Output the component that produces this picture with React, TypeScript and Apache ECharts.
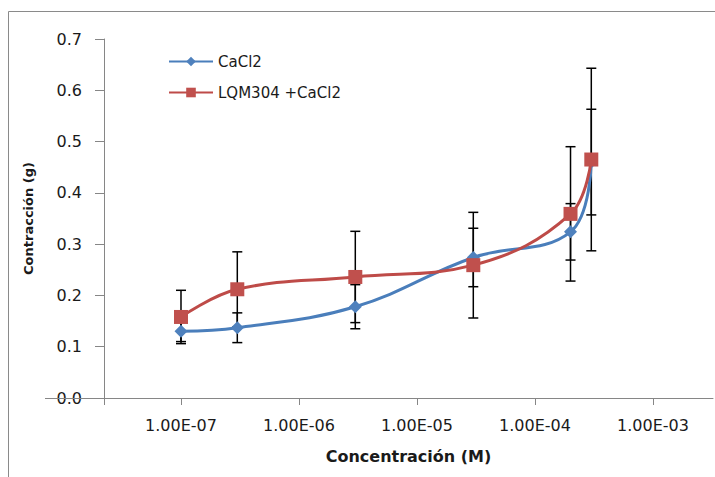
import React, { useEffect, useRef } from "react";
import * as echarts from "echarts";

// Concentration (M) of each measurement
const concentrations = [1e-7, 3e-7, 3e-6, 3e-5, 2e-4, 3e-4];
// Series: CaCl2
const cacl2Values = [0.13, 0.137, 0.178, 0.274, 0.324, 0.46];
const cacl2Errors = [0.02, 0.029, 0.043, 0.057, 0.055, 0.103];
// Series: LQM304 + CaCl2
const lqmValues = [0.158, 0.212, 0.236, 0.259, 0.359, 0.465];
const lqmErrors = [0.052, 0.073, 0.089, 0.103, 0.131, 0.178];
// Tick exponents of the log axis
const xTickExponents = [-7, -6, -5, -4, -3];
const xAxisMinExp = -7.6525;
const xAxisMaxExp = -2.4915;
const yTickValues = [0, 0.1, 0.2, 0.3, 0.4, 0.5, 0.6, 0.7];

const seriesNames = ["CaCl2", "LQM304 +CaCl2"];

const FONT = "DejaVu Sans";

function fmtExp(e: number): string {
  const n = Math.round(Math.abs(e));
  return "1.00E" + (e < 0 ? "-" : "+") + String(n).padStart(2, "0");
}

function errorData(values: number[], errs: number[]) {
  return concentrations.map((c, i) => [Math.log10(c), values[i] - errs[i], values[i] + errs[i]]);
}

function lineData(values: number[]) {
  return concentrations.map((c, i) => [Math.log10(c), values[i]]);
}

function errorRender(params: any, api: any) {
  const x = api.value(0);
  const lo = api.coord([x, api.value(1)]);
  const hi = api.coord([x, api.value(2)]);
  const cap = 5;
  const style = { stroke: "#000", lineWidth: 1.5 };
  return {
    type: "group",
    children: [
      { type: "line", shape: { x1: lo[0], y1: lo[1], x2: hi[0], y2: hi[1] }, style },
      { type: "line", shape: { x1: lo[0] - cap, y1: lo[1], x2: lo[0] + cap, y2: lo[1] }, style },
      { type: "line", shape: { x1: hi[0] - cap, y1: hi[1], x2: hi[0] + cap, y2: hi[1] }, style },
    ],
  };
}

export default function App() {
  const ref = useRef<HTMLDivElement>(null);
  useEffect(() => {
    if (!ref.current) return;
    const chart = echarts.init(ref.current, null, { renderer: "svg" });
    const axisColor = "#868686";
    chart.setOption({
      animation: false,
      backgroundColor: "#fff",
      grid: { left: 104, right: 2, top: 39, bottom: 79, containLabel: false, outerBoundsMode: "none" },
      legend: {
        orient: "vertical",
        left: 168,
        top: 54,
        padding: 0,
        itemWidth: 44,
        itemHeight: 12,
        itemGap: 16,
        data: seriesNames,
        textStyle: { fontFamily: FONT, fontSize: 15, color: "#1a1a1a" },
      },
      xAxis: {
        type: "value",
        min: xAxisMinExp,
        max: xAxisMaxExp,
        name: "Concentración (M)",
        nameLocation: "middle",
        nameGap: 50,
        nameTextStyle: { fontFamily: FONT, fontSize: 16, fontWeight: "bold", color: "#1a1a1a" },
        axisLine: { show: true, onZero: false, lineStyle: { color: axisColor, width: 1 } },
        axisTick: { show: true, length: 7, lineStyle: { color: axisColor }, customValues: [xAxisMinExp, ...xTickExponents] },
        axisLabel: {
          show: true,
          customValues: xTickExponents,
          margin: 19,
          fontFamily: FONT,
          fontSize: 16,
          color: "#1a1a1a",
          formatter: (v: number) => fmtExp(v),
        },
        splitLine: { show: false },
      },
      yAxis: {
        type: "value",
        min: 0,
        max: 0.7,
        interval: 0.1,
        name: "Contracción (g)",
        nameLocation: "middle",
        nameGap: 69,
        nameRotate: 90,
        nameTextStyle: { fontFamily: FONT, fontSize: 13, fontWeight: "bold", color: "#1a1a1a" },
        axisLine: { show: true, lineStyle: { color: axisColor, width: 1 } },
        axisTick: { show: true, inside: false, length: 9, lineStyle: { color: axisColor } },
        axisLabel: {
          margin: 22,
          fontFamily: FONT,
          fontSize: 16,
          color: "#1a1a1a",
          formatter: (v: number) => v.toFixed(1),
          customValues: yTickValues,
        },
        splitLine: { show: false },
      },
      graphic: [
        {
          type: "rect",
          z: -10,
          shape: { x: 8.5, y: 11.5, width: 730, height: 500 },
          style: { fill: "none", stroke: "#8a8a8a", lineWidth: 1 },
        },
        {
          type: "line",
          z: 10,
          shape: { x1: 45, y1: 398.5, x2: 104, y2: 398.5 },
          style: { stroke: axisColor, lineWidth: 1 },
        },
      ],
      series: [
        {
          type: "custom",
          name: "errCaCl2",
          renderItem: errorRender,
          data: errorData(cacl2Values, cacl2Errors),
          encode: { x: 0, y: [1, 2] },
          z: 1,
          silent: true,
        },
        {
          type: "custom",
          name: "errLQM",
          renderItem: errorRender,
          data: errorData(lqmValues, lqmErrors),
          encode: { x: 0, y: [1, 2] },
          z: 1,
          silent: true,
        },
        {
          type: "line",
          name: seriesNames[0],
          data: lineData(cacl2Values),
          smooth: 0.4,
          symbol: "diamond",
          symbolSize: 13,
          showAllSymbol: true,
          lineStyle: { color: "#4A7EBB", width: 3 },
          itemStyle: { color: "#4F81BD" },
          z: 3,
        },
        {
          type: "line",
          name: seriesNames[1],
          data: lineData(lqmValues),
          smooth: 0.4,
          symbol: "rect",
          symbolSize: 14,
          showAllSymbol: true,
          lineStyle: { color: "#BE4B48", width: 3 },
          itemStyle: { color: "#C0504D" },
          z: 4,
        },
      ],
    });
    return () => chart.dispose();
  }, []);
  return <div ref={ref} style={{ width: 715, height: 477, position: "absolute", left: 0, top: 0 }} />;
}
